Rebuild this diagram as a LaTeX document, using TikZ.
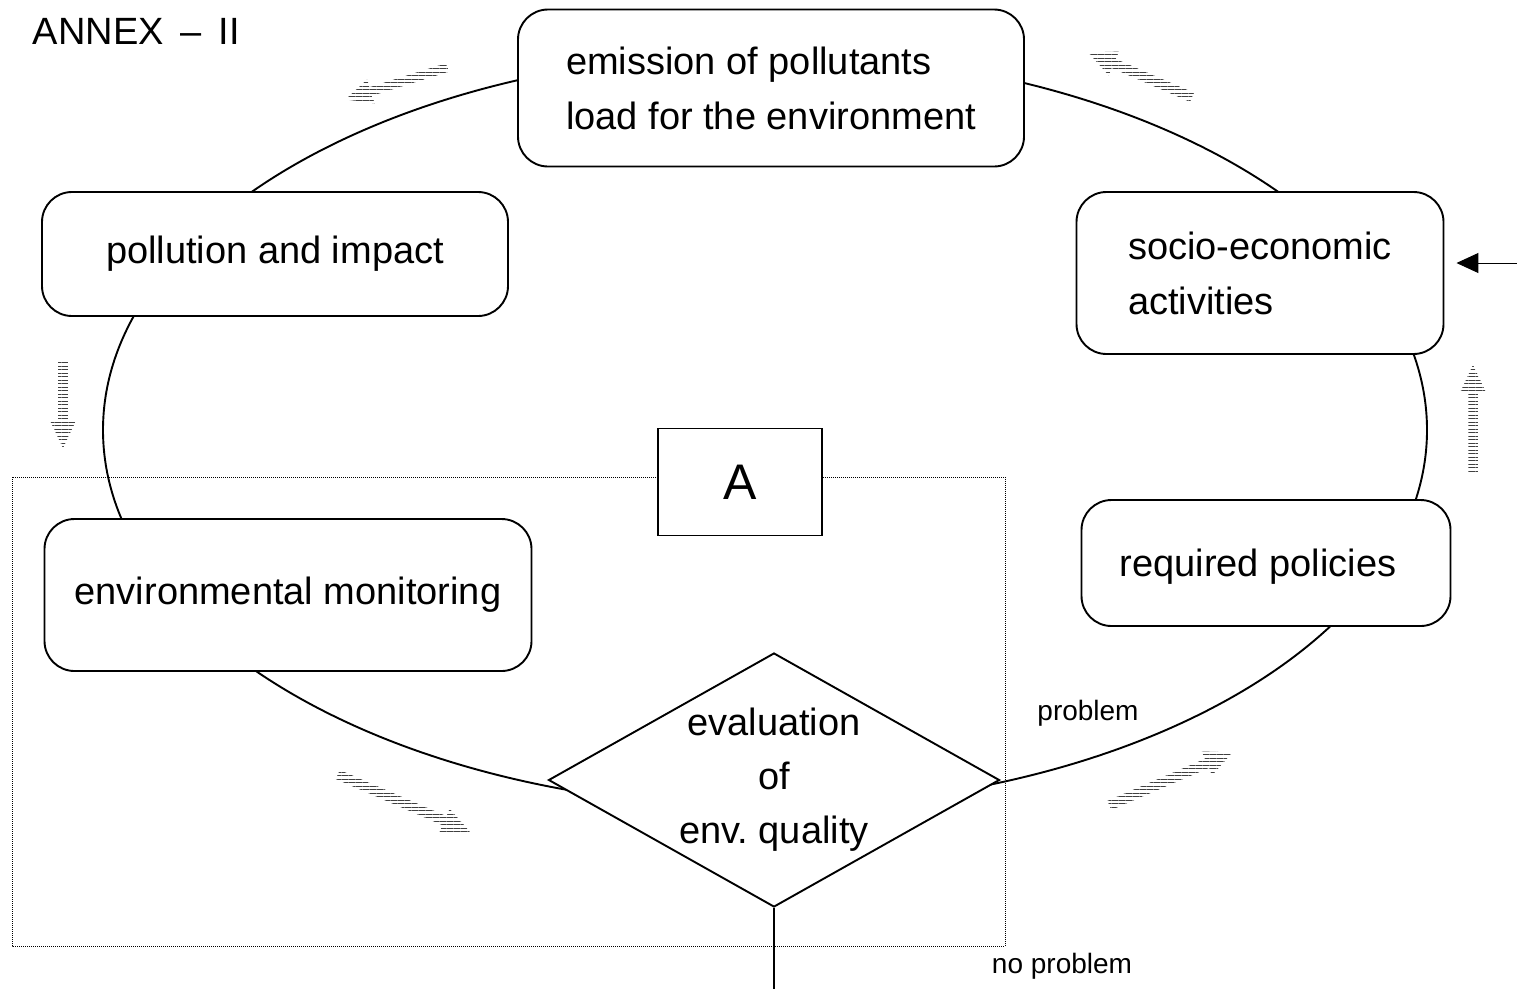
\documentclass[tikz,border=0pt]{standalone}
\usepackage{fontspec}
\setmainfont{Liberation Sans}
\usetikzlibrary{shapes.geometric,shapes.arrows,patterns.meta,arrows.meta}

\begin{document}
\begin{tikzpicture}[x=1pt,y=-1pt,line width=1.9pt,
  box/.style={draw,rounded corners=30pt,fill=white,inner sep=0pt,font=\fontsize{38}{55}\selectfont},
  flow/.style={single arrow,draw=none,inner xsep=0pt,inner ysep=4pt,single arrow head extend=8pt,single arrow tip angle=50,pattern={Lines[angle=0,distance=3.5pt,line width=0.9pt]},pattern color=black!75},
  lbl/.style={font=\fontsize{28}{32}\selectfont}]
\useasboundingbox (0,0) rectangle (1517,989);
% the cycle and the frame of A
\draw (765,430) ellipse [x radius=662, y radius=377];
\draw[densely dotted,line width=1pt] (12,477) rectangle (1005,946);
\node[inner sep=0pt,anchor=west,font=\fontsize{38}{40}\selectfont] (annex) at (32,31) {ANNEX \,--\, II};
\node[box,minimum width=506,minimum height=157,align=left] (emission) at (771,88) {emission of pollutants\\load for the environment};
\node[box,minimum width=466,minimum height=124] (pollution) at (275,254) {pollution and impact};
\node[box,minimum width=367,minimum height=162,align=left] (socio) at (1260,273) {socio-economic\\activities};
\node[box,minimum width=369,minimum height=126,text depth=0pt] (policies) at (1266,563) {\hspace*{-16pt}required policies};
\node[box,minimum width=487,minimum height=152] (monitoring) at (288,595) {environmental monitoring};
\node[draw,fill=white,line width=1.4pt,minimum width=164,minimum height=107,font=\fontsize{50}{50}\selectfont] (a) at (740,482) {A};
\node[draw,diamond,fill=white,inner sep=0pt,minimum width=451,minimum height=254] (eval) at (774,780) {};
\node[align=center,font=\fontsize{38}{54}\selectfont] (evaltext) at (eval) {evaluation\\of\\env.\ quality};
\coordinate (exit) at (774,989);
\draw (eval.south) -- (exit);
\node[lbl] (prob) at (1088,713) {problem};
\node[lbl] (noprob) at (1062,966) {no problem};
% input from outside
\coordinate (feed) at (1517,263);
\draw[line width=1pt,-{Triangle[length=22pt,width=20pt]},shorten >=12pt] (feed) -- (socio.east |- feed);
% direction of the cycle
\node[flow,rotate=197.4,minimum height=107] (f1) at (401,82) {};
\node[flow,rotate=-90,minimum height=88] (f2) at (63,399) {};
\node[flow,rotate=-23.4,minimum height=144] (f3) at (399,801) {};
\node[flow,rotate=23.3,minimum height=134] (f4) at (1166,781) {};
\node[flow,rotate=90,minimum height=108] (f5) at (1473,424) {};
\node[flow,rotate=156.6,minimum height=113] (f6) at (1145,77) {};
\end{tikzpicture}
\end{document}
